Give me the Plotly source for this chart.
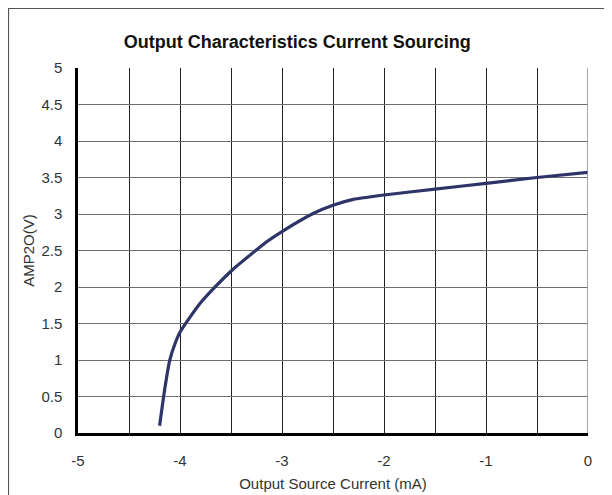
import plotly.graph_objects as go

current_ma = [-4.20, -4.15, -4.10, -4.05, -4.00, -3.90, -3.80, -3.67, -3.49, -3.31,
              -3.15, -3.00, -2.69, -2.50, -2.30, -2.00, -1.50, -1.00, -0.50, 0.00]
amp2o_v = [0.10, 0.60, 1.00, 1.22, 1.38, 1.59, 1.78, 1.98, 2.23, 2.44,
           2.62, 2.76, 3.01, 3.12, 3.20, 3.26, 3.34, 3.42, 3.50, 3.57]

x_ticks = [-5, -4, -3, -2, -1, 0]
y_ticks = [0, 0.5, 1, 1.5, 2, 2.5, 3, 3.5, 4, 4.5, 5]

FONT = "Liberation Sans, Arial, sans-serif"

# page body has an 8px margin, so the figure is 604x487 placed at (8,8)
W, H = 604, 487
L, R, T, B = 70, 24, 60, 62
PW, PH = W - L - R, H - T - B

fig = go.Figure()
fig.add_trace(go.Scatter(
    x=current_ma, y=amp2o_v, mode="lines",
    line=dict(color="#2E3468", width=3.2, shape="spline", smoothing=0.5),
    showlegend=False, hoverinfo="skip"))

fig.update_layout(
    width=W, height=H,
    margin=dict(l=L, r=R, t=T, b=B),
    paper_bgcolor="white", plot_bgcolor="white",
    font=dict(family=FONT, size=15, color="#333"),
    title=dict(text="<b>Output Characteristics Current Sourcing</b>",
               x=0.43, xref="paper", xanchor="center",
               y=1, yref="paper", yanchor="bottom", pad=dict(b=20),
               font=dict(family=FONT, size=18, color="#111")),
    xaxis=dict(range=[-5, 0], tickvals=x_ticks, ticktext=[str(v) for v in x_ticks],
               showgrid=True, gridcolor="#222", gridwidth=1,
               minor=dict(dtick=0.5, showgrid=True, gridcolor="#222", gridwidth=1),
               showline=True, linecolor="black", linewidth=2.5, ticks="",
               zeroline=False, ticklabelstandoff=12, automargin=False,
               tickfont=dict(family=FONT, size=15, color="#333"),
               title=dict(text="Output Source Current (mA)", standoff=11,
                          font=dict(family=FONT, size=15, color="#333"))),
    yaxis=dict(range=[0, 5], tickvals=y_ticks, ticktext=[f"{v:g}" for v in y_ticks],
               showgrid=True, gridcolor="#707070", gridwidth=1,
               showline=True, linecolor="black", linewidth=2.5, ticks="",
               zeroline=False, ticklabelstandoff=10, automargin=False,
               tickfont=dict(family=FONT, size=15, color="#333"),
               title=dict(text="AMP2O(V)", standoff=4,
                          font=dict(family=FONT, size=15, color="#333"))),
)

# outer frame (left/top visible, right/bottom run off the page) and gray right edge
fig.add_shape(type="rect", xref="paper", yref="paper",
              x0=(0.5 - L) / PW, x1=(W + 20 - L) / PW,
              y0=-(B + 20) / PH, y1=(H - B - 0.5) / PH,
              line=dict(color="#555", width=1.2), layer="below")
fig.add_shape(type="line", xref="x", yref="paper", x0=0, x1=0, y0=0, y1=1,
              line=dict(color="#888", width=1.5), layer="above")

fig.write_html("out.html")
